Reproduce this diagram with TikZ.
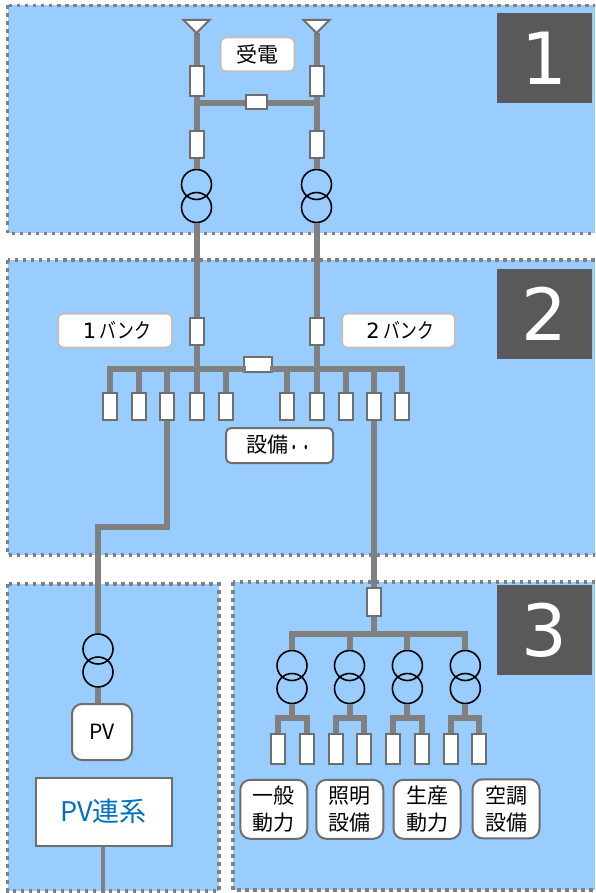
\documentclass[tikz,border=0pt]{standalone}
\usepackage{fontspec}
\setmainfont{Noto Sans CJK JP}
\newfontfamily\digitFont{DejaVu Sans}
\newfontfamily\kanaFont[FakeStretch=0.8]{Noto Sans CJK JP}
\newfontfamily\dotFont[FakeStretch=0.55]{Noto Sans CJK JP}
\usetikzlibrary{calc}
\definecolor{panelColor}{HTML}{99CCFF}
\definecolor{wireColor}{HTML}{808080}
\definecolor{boxColor}{HTML}{6E6E6E}
\definecolor{badgeColor}{HTML}{595959}
\definecolor{paleColor}{HTML}{BFBFBF}
\definecolor{linkColor}{HTML}{0070C0}
\newcommand{\tSize}{30pt}
\newcommand{\drawTrans}[3]{
	\node[trans] (#1a) at (#2,#3) {};
	\node[trans] (#1b) at (#2,#3+23) {};
}
\tikzset{panel/.style = {fill=panelColor, draw=wireColor, line width=3.2pt, dash pattern=on 3.5pt off 4.5pt}}
\tikzset{wire/.style = {draw=wireColor, line width=6pt}}
\tikzset{trans/.style = {circle, draw=black, line width=1.6pt, minimum size=\tSize, inner sep=0pt}}
\tikzset{sw/.style = {draw=boxColor, fill=white, line width=2pt, minimum width=14pt, minimum height=27pt, inner sep=0pt}}
\tikzset{tag/.style = {draw=paleColor, fill=white, line width=2pt, rounded corners=5pt, inner sep=0pt, font=\fontsize{21}{24}\selectfont}}
\tikzset{load/.style = {draw=boxColor, fill=white, line width=2pt, rounded corners=10pt, inner sep=0pt, align=center, minimum width=67pt, minimum height=59pt, font=\fontsize{21}{26.5}\selectfont}}
\tikzset{badge/.style = {fill=badgeColor, text=white, minimum width=95pt, minimum height=90pt, inner sep=0pt, font=\digitFont\fontsize{72}{72}\selectfont}}
\begin{document}
\begin{tikzpicture}[x=1pt,y=-1pt]
	\useasboundingbox (0,0) rectangle (595,893);
	\fill[white] (0,0) rectangle (595,893);
	\clip (0,0) rectangle (595,893);

	% panels
	\filldraw[panel] (7.5,5.5) rectangle (610,233.5);
	\filldraw[panel] (7.5,260) rectangle (610,555);
	\filldraw[panel] (7.5,584) rectangle (219,891);
	\filldraw[panel] (233,582) rectangle (610,890);
	\node[badge] (badge1) at (544.5,58.5) {1};
	\node[badge] (badge2) at (544.5,314) {2};
	\node[badge] (badge3) at (544.5,630) {3};

	% receiving side
	\foreach \n/\x in {1/196.5, 2/316.5}
	{
		\coordinate (ant\n) at (\x,33);
		\node[sw, minimum height=30pt] (top\n) at (\x,81.5) {};
		\node[sw, minimum height=27pt] (mid\n) at (\x,145) {};
		\drawTrans{tr\n}{\x}{184.5}
		\node[sw] (bank\n) at (\x,331) {};
		\draw[wire] (ant\n) -- (top\n.north);
		\draw[wire] (top\n.south) -- (mid\n.north);
		\draw[wire] (mid\n.south) -- (tr\n a.north);
		\draw[wire] (tr\n b.south) -- (bank\n.north);
		\filldraw[draw=boxColor, fill=white, line width=2pt] (ant\n) -- ++(-13,-13) -- ++(26,0) -- cycle;
	}
	\node[sw, minimum width=21pt, minimum height=14pt] (tieA) at (256.5,102.5) {};
	\coordinate (tieAL) at (196.5,103.5);
	\coordinate (tieAR) at (316.5,103.5);
	\draw[wire] (tieAL) -- (tieA.west |- tieAL);
	\draw[wire] (tieA.east |- tieAR) -- (tieAR);

	\node[tag, minimum width=74pt, minimum height=34pt] (recv) at (257.5,54.5) {受電};
	\node[tag, minimum width=114pt, minimum height=34pt] (lbl1) at (115,330.5) {\hspace*{4pt}{\digitFont 1}\,{\kanaFont バンク}};
	\node[tag, minimum width=113pt, minimum height=34pt] (lbl2) at (398.5,330.5) {\hspace*{4pt}{\digitFont 2}\,{\kanaFont バンク}};
	\node[tag, draw=boxColor, minimum width=107pt, minimum height=35pt] (lbl3) at (279.5,445.5) {設備\raisebox{-3pt}{\dotFont ・・}};

	% bus with feeders
	\coordinate (busL) at (109.7,368.5);
	\coordinate (busR) at (402.3,368.5);
	\node[sw, minimum width=28pt, minimum height=15pt] (tieB) at (257.5,364.5) {};
	\foreach \n/\x in {1/109.7, 2/138.5, 3/167.4, 4/196.6, 5/225.8, 6/287, 7/316.5, 8/345.7, 9/373.8, 10/402.3}
	{
		\node[sw] (feed\n) at (\x,406) {};
		\draw[wire] (feed\n.north) -- (feed\n.north |- busL);
	}
	\draw[wire, line cap=rect] (busL) -- (tieB.west |- busL);
	\draw[wire, line cap=rect] (tieB.east |- busR) -- (busR);
	\draw[wire] (bank1.south) -- (bank1.south |- busL);
	\draw[wire] (bank2.south) -- (bank2.south |- busR);

	% PV side
	\drawTrans{trPV}{98}{649}
	\node[draw=boxColor, fill=white, line width=2pt, rounded corners=10pt, minimum width=60pt, minimum height=56pt, inner sep=0pt, font=\fontsize{21}{24}\selectfont] (pv) at (102,732) {PV};
	\node[draw=boxColor, fill=white, line width=2pt, minimum width=136pt, minimum height=68pt, inner sep=0pt, text=linkColor, font=\fontsize{27}{30}\selectfont] (link) at (103.5,811.5) {PV連系};
	\coordinate (linkEnd) at (102.8,893);
	\coordinate (bendA) at (167.4,527);
	\coordinate (bendB) at (98,527);
	\draw[wire, line join=miter] (feed3.south) -- (bendA) -- (bendB) -- (trPVa.north);
	\draw[wire] (trPVb.south) -- (trPVb.south |- pv.north);
	\draw[draw=wireColor, line width=3.5pt] (link.south -| linkEnd) -- (linkEnd);

	% plant side
	\node[sw, minimum height=28pt] (main) at (373.8,602) {};
	\draw[wire] (feed9.south) -- (main.north);
	\coordinate (plantL) at (292,634);
	\coordinate (plantR) at (465.3,634);
	\draw[wire, line cap=rect] (plantL) -- (plantR);
	\draw[wire] (main.south) -- (main.south |- plantL);
	\foreach \n/\x/\a/\b in {1/292/277.6/307, 2/349.5/336/363.6, 3/407.4/392.8/422, 4/465.3/451.4/479}
	{
		\drawTrans{trL\n}{\x}{665.5}
		\draw[wire] (trL\n a.north |- plantL) -- (trL\n a.north);
		\node[sw, minimum height=30pt] (outA\n) at (\a,749) {};
		\node[sw, minimum height=30pt] (outB\n) at (\b,749) {};
		\coordinate (fork\n) at (\x,718);
		\draw[wire] (trL\n b.south) -- (fork\n);
		\draw[wire, line join=miter] (outA\n.north) |- (fork\n) -| (outB\n.north);
	}
	\node[load] (load1) at (273.8,809.3) {一般\\動力};
	\node[load] (load2) at (349.8,809.3) {照明\\設備};
	\node[load] (load3) at (427,809.3) {生産\\動力};
	\node[load] (load4) at (506,808.8) {空調\\設備};
\end{tikzpicture}
\end{document}
